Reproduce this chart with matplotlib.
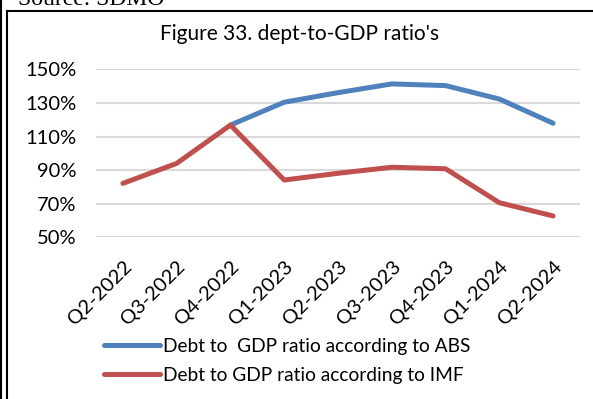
import numpy as np
import matplotlib
matplotlib.use("Agg")
import matplotlib.pyplot as plt
from matplotlib.lines import Line2D

quarters = ["Q2-2022", "Q3-2022", "Q4-2022", "Q1-2023", "Q2-2023",
            "Q3-2023", "Q4-2023", "Q1-2024", "Q2-2024"]
abs_ratio = [np.nan, np.nan, 116.8, 130.4, 136.1, 141.3, 140.3, 132.3, 117.9]
imf_ratio = [82.1, 94.0, 116.8, 84.1, 88.1, 91.7, 90.8, 70.6, 62.7]
yticks = [50, 70, 90, 110, 130, 150]

W, H = 593, 399
plt.rcParams['font.family'] = ['Lato', 'DejaVu Sans']

fig = plt.figure(figsize=(W / 100, H / 100), dpi=100)

# page borders around the chart box
fig.add_artist(Line2D([1 / W, 1 / W], [0, 1], color='black', lw=1.5))
fig.add_artist(Line2D([7 / W, 7 / W], [0, 1 - 10.5 / H], color='black', lw=1.5))
fig.add_artist(Line2D([7 / W, 1], [1 - 10.5 / H, 1 - 10.5 / H], color='black', lw=1.5))

fig.text(18 / W, 1 - 5 / H, "Source: SDMO", family='Liberation Serif',
         fontsize=17, va='baseline', ha='left')

ax = fig.add_axes([96 / W, 1 - 237.3 / H, (580 - 96) / W, 168 / H])
x = np.arange(len(quarters))
ax.plot(x, abs_ratio, color='#4F81BD', lw=3.6, solid_capstyle='round',
        solid_joinstyle='round', label="Debt to  GDP ratio according to ABS")
ax.plot(x, imf_ratio, color='#C0504D', lw=3.6, solid_capstyle='round',
        solid_joinstyle='round', label="Debt to GDP ratio according to IMF")

ax.set_xlim(-0.5, len(quarters) - 0.5)
ax.set_ylim(50, 150)
ax.set_yticks(yticks)
ax.set_yticklabels([f"{v}%" for v in yticks], fontsize=14.5)
ax.set_xticks(x)
ax.set_xticklabels(quarters, rotation=45, ha='right', rotation_mode='anchor',
                   fontsize=14.5)
ax.tick_params(length=0)
ax.tick_params(axis='y', pad=14)
ax.tick_params(axis='x', pad=15)
ax.grid(axis='y', color='#D9D9D9', lw=1.5)
ax.set_axisbelow(True)
for s in ax.spines.values():
    s.set_visible(False)

fig.text(300 / W, 1 - 40 / H, "Figure 33. dept-to-GDP ratio's", fontsize=15,
         ha='center', va='baseline')

fig.legend(loc='upper left', bbox_to_anchor=(104 / W, 1 - 338 / H), frameon=False,
           fontsize=13.8, handlelength=2.9, handletextpad=0.2, labelspacing=0.6,
           borderpad=0, borderaxespad=0)

fig.savefig("out.png", dpi=100)
